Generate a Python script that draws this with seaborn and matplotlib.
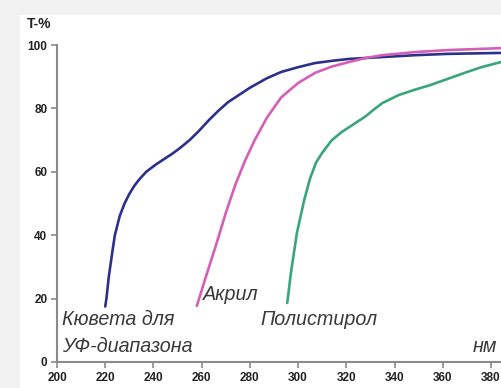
import numpy as np
import pandas as pd
import matplotlib
matplotlib.use("Agg")
import matplotlib.pyplot as plt
import seaborn as sns
from matplotlib.patches import Rectangle

# Data
cuvette_wl = [220, 220.5, 221.5, 223, 224, 226, 228, 230, 232, 234, 237, 241, 245, 248, 251, 255, 259, 263, 267, 271, 275, 280, 287, 293, 300, 307, 314, 321, 335, 349, 362, 384]
cuvette_t = [17.5, 20, 27, 35, 40, 46, 50, 53, 55.5, 57.5, 60, 62.3, 64.3, 65.8, 67.5, 70, 73, 76.3, 79.3, 82, 84, 86.5, 89.5, 91.5, 93, 94.3, 95, 95.6, 96.2, 96.8, 97.2, 97.5]

acryl_wl = [258, 262, 266, 270, 274, 278, 282, 287, 293, 300, 307, 314, 321, 328, 335, 349, 362, 384]
acryl_t = [17.7, 27.5, 37, 47, 56, 63.5, 70, 77, 83.5, 88, 91.2, 93.2, 94.6, 95.9, 96.8, 97.8, 98.4, 99]

ps_wl = [295.5, 297, 299.5, 302.5, 305, 307.5, 310, 314, 318, 321, 325, 328, 332, 335, 341.7, 348, 355, 362, 369, 376, 384]
ps_t = [18.6, 28, 40.7, 51, 58, 63, 66, 70, 72.5, 74, 76, 77.5, 80, 81.7, 84.2, 85.8, 87.4, 89.3, 91.2, 93, 94.6]

series_names = ["Кювета для\nУФ-диапазона", "Акрил", "Полистирол"]
colors = ["#2b318a", "#d35fb7", "#3aa57a"]
x_ticks = [200, 220, 240, 260, 280, 300, 320, 340, 360, 380]
y_ticks = [0, 20, 40, 60, 80, 100]

df = pd.concat([
    pd.DataFrame({"wl": cuvette_wl, "t": cuvette_t, "s": series_names[0]}),
    pd.DataFrame({"wl": acryl_wl, "t": acryl_t, "s": series_names[1]}),
    pd.DataFrame({"wl": ps_wl, "t": ps_t, "s": series_names[2]}),
])

sns.set_style("white")
plt.rcParams['font.family'] = ['Liberation Sans', 'DejaVu Sans']

W, H = 502, 388
fig = plt.figure(figsize=(W / 100, H / 100), dpi=100, facecolor="#f2f2f2")
bg = Rectangle((20 / W, 0), 1, (H - 15) / H, transform=fig.transFigure,
               facecolor="white", edgecolor="none", zorder=-10)
fig.patches.append(bg)

ax = fig.add_axes([57 / W, (H - 362) / H, (W - 57) / W, (362 - 45) / H])
ax.set_zorder(5)
ax.set_facecolor("none")

sns.lineplot(data=df, x="wl", y="t", hue="s", palette=colors, sort=False,
             linewidth=1.9, legend=False, ax=ax, estimator=None)

ax.set_xlim(200, 200 + (W - 57) / 2.411)
ax.set_ylim(0, 100)
ax.set_xticks(x_ticks)
ax.set_yticks(y_ticks)
ax.set_xticklabels([str(v) for v in x_ticks], fontsize=8.5, fontweight="bold", color="#222222")
ax.set_yticklabels([str(v) for v in y_ticks], fontsize=8.5, fontweight="bold", color="#222222")
ax.set_xlabel("")
ax.set_ylabel("")
for side in ["top", "right"]:
    ax.spines[side].set_visible(False)
for side in ["left", "bottom"]:
    ax.spines[side].set_color("#8a8a8a")
    ax.spines[side].set_linewidth(1.5)
ax.tick_params(axis="both", which="both", direction="out", length=4, width=1.2,
               color="#8a8a8a", bottom=True, left=True, pad=3)

fig.text(27 / W, 1 - 28 / H, "T-%", fontsize=10, fontweight="bold", color="#222222",
         va="baseline", ha="left", zorder=6)

lab = dict(fontsize=14.2, style="italic", color="#3a3a3a", va="baseline", ha="left")
ax.text(202.1, 11.7, "Кювета для", **lab)
ax.text(202.1, 3.2, "УФ-диапазона", **lab)
ax.text(260.6, 19.6, "Акрил", **lab)
ax.text(284.2, 11.7, "Полистирол", **lab)
ax.text(372.5, 3.2, "нм", clip_on=False, **lab)

fig.savefig("out.png", dpi=100, facecolor=fig.get_facecolor())
